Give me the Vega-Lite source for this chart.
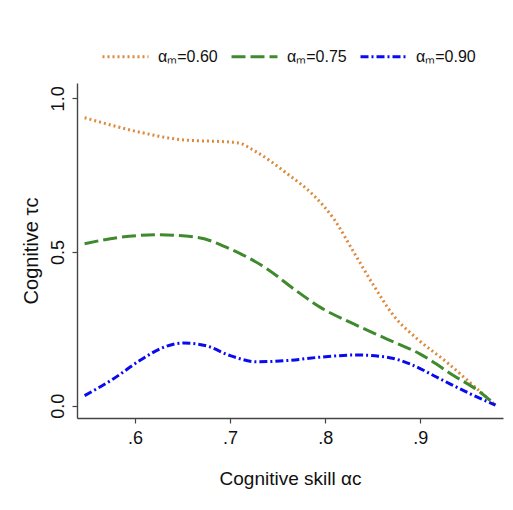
{
  "$schema": "https://vega.github.io/schema/vega-lite/v6.json",
  "width": 426,
  "height": 335,
  "autosize": "none",
  "padding": {"left": 77, "top": 83, "right": 10, "bottom": 92},
  "background": "white",
  "config": {
    "view": {"stroke": null},
    "font": "Liberation Sans",
    "axis": {"grid": false, "domainColor": "#444", "tickColor": "#444", "domainWidth": 1.4, "tickWidth": 1.2, "tickSize": 5, "labelColor": "#111", "titleColor": "#111", "labelFont": "Liberation Sans", "titleFont": "Liberation Sans", "titleFontWeight": "normal"}
  },
  "data": {"values": [
    {"x": 0.547, "y": 0.937, "s": "αₘ=0.60"},
    {"x": 0.605, "y": 0.890, "s": "αₘ=0.60"},
    {"x": 0.647, "y": 0.866, "s": "αₘ=0.60"},
    {"x": 0.707, "y": 0.856, "s": "αₘ=0.60"},
    {"x": 0.728, "y": 0.825, "s": "αₘ=0.60"},
    {"x": 0.760, "y": 0.755, "s": "αₘ=0.60"},
    {"x": 0.788, "y": 0.684, "s": "αₘ=0.60"},
    {"x": 0.809, "y": 0.608, "s": "αₘ=0.60"},
    {"x": 0.830, "y": 0.500, "s": "αₘ=0.60"},
    {"x": 0.851, "y": 0.391, "s": "αₘ=0.60"},
    {"x": 0.872, "y": 0.293, "s": "αₘ=0.60"},
    {"x": 0.897, "y": 0.217, "s": "αₘ=0.60"},
    {"x": 0.928, "y": 0.141, "s": "αₘ=0.60"},
    {"x": 0.956, "y": 0.065, "s": "αₘ=0.60"},
    {"x": 0.979, "y": 0.002, "s": "αₘ=0.60"},
    {"x": 0.547, "y": 0.527, "s": "αₘ=0.75"},
    {"x": 0.584, "y": 0.548, "s": "αₘ=0.75"},
    {"x": 0.623, "y": 0.556, "s": "αₘ=0.75"},
    {"x": 0.665, "y": 0.548, "s": "αₘ=0.75"},
    {"x": 0.700, "y": 0.510, "s": "αₘ=0.75"},
    {"x": 0.739, "y": 0.445, "s": "αₘ=0.75"},
    {"x": 0.767, "y": 0.380, "s": "αₘ=0.75"},
    {"x": 0.795, "y": 0.320, "s": "αₘ=0.75"},
    {"x": 0.830, "y": 0.266, "s": "αₘ=0.75"},
    {"x": 0.865, "y": 0.217, "s": "αₘ=0.75"},
    {"x": 0.900, "y": 0.168, "s": "αₘ=0.75"},
    {"x": 0.935, "y": 0.098, "s": "αₘ=0.75"},
    {"x": 0.963, "y": 0.044, "s": "αₘ=0.75"},
    {"x": 0.979, "y": 0.002, "s": "αₘ=0.75"},
    {"x": 0.547, "y": 0.033, "s": "αₘ=0.90"},
    {"x": 0.577, "y": 0.087, "s": "αₘ=0.90"},
    {"x": 0.605, "y": 0.147, "s": "αₘ=0.90"},
    {"x": 0.630, "y": 0.190, "s": "αₘ=0.90"},
    {"x": 0.651, "y": 0.204, "s": "αₘ=0.90"},
    {"x": 0.675, "y": 0.195, "s": "αₘ=0.90"},
    {"x": 0.700, "y": 0.163, "s": "αₘ=0.90"},
    {"x": 0.728, "y": 0.143, "s": "αₘ=0.90"},
    {"x": 0.760, "y": 0.147, "s": "αₘ=0.90"},
    {"x": 0.795, "y": 0.158, "s": "αₘ=0.90"},
    {"x": 0.833, "y": 0.165, "s": "αₘ=0.90"},
    {"x": 0.865, "y": 0.158, "s": "αₘ=0.90"},
    {"x": 0.889, "y": 0.136, "s": "αₘ=0.90"},
    {"x": 0.921, "y": 0.087, "s": "αₘ=0.90"},
    {"x": 0.953, "y": 0.038, "s": "αₘ=0.90"},
    {"x": 0.979, "y": 0.002, "s": "αₘ=0.90"}
  ]},
  "mark": {"type": "line", "interpolate": "monotone", "strokeWidth": 3, "strokeCap": "butt"},
  "encoding": {
    "x": {"field": "x", "type": "quantitative",
      "scale": {"domain": [0.539, 0.987], "nice": false, "zero": false},
      "axis": {"values": [0.6, 0.7, 0.8, 0.9], "labelExpr": "replace(format(datum.value, '.1f'), '0.', '.')", "labelFontSize": 18, "labelPadding": 6, "title": "Cognitive skill αc", "titleFontSize": 19, "titlePadding": 22}},
    "y": {"field": "y", "type": "quantitative",
      "scale": {"domain": [-0.04, 1.05], "nice": false, "zero": false},
      "axis": {"values": [0, 0.5, 1], "format": ".1f", "labelAngle": -90, "labelAlign": "center", "labelBaseline": "bottom", "labelFontSize": 18, "labelPadding": 5, "title": "Cognitive τc", "titleFontSize": 20, "titlePadding": 8}},
    "color": {"field": "s", "type": "nominal",
      "scale": {"domain": ["αₘ=0.60", "αₘ=0.75", "αₘ=0.90"], "range": ["#DD8A3E", "#3E8A2C", "#0A0AF0"]},
      "legend": {"title": null, "orient": "none", "legendX": 24, "legendY": -51, "direction": "horizontal", "symbolType": "stroke", "symbolSize": 2116, "symbolStrokeWidth": 3, "labelFontSize": 16, "labelOffset": 8, "columnPadding": 7, "labelFont": "Liberation Sans", "labelColor": "#111", "labelLimit": 200}},
    "strokeDash": {"field": "s", "type": "nominal",
      "scale": {"domain": ["αₘ=0.60", "αₘ=0.75", "αₘ=0.90"], "range": [[2, 3], [14, 5], [8, 3, 2, 3]]},
      "legend": {"title": null}}
  }
}
